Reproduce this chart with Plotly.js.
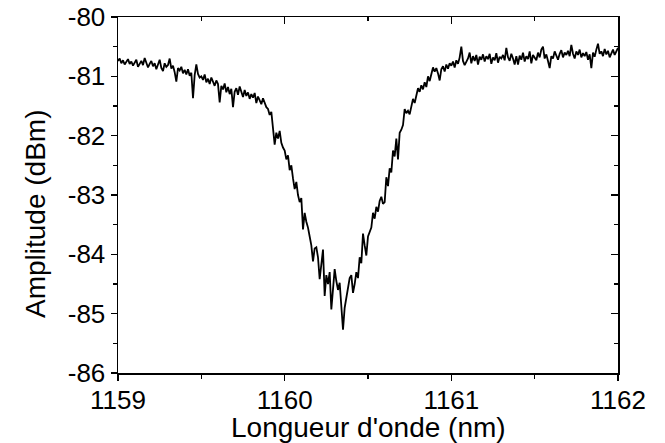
<!DOCTYPE html>
<html>
<head>
<meta charset="utf-8">
<script src="https://cdn.plot.ly/plotly-3.0.1.min.js"></script>
<style>html,body{margin:0;padding:0;background:#fff;}#chart{width:665px;height:443px;}</style>
</head>
<body>
<div id="chart"></div>
<script>
// Wavelength sampling (nm): first sample and step
const wavelengthStart = 1159.0;
const wavelengthStep = 0.01;

// Measured amplitude (dBm), one value per 0.01 nm from 1159.00 to 1162.00
const amplitude = [
  -80.74, -80.70, -80.78, -80.73, -80.80, -80.76, -80.71, -80.79, -80.75, -80.82,
  -80.77, -80.72, -80.84, -80.78, -80.74, -80.81, -80.69, -80.77, -80.85, -80.79,
  -80.74, -80.83, -80.78, -80.88, -80.80, -80.72, -80.86, -80.91, -80.78, -80.84,
  -80.81, -80.70, -80.87, -80.82, -80.93, -81.09, -80.86, -80.90, -80.84, -80.95,
  -80.89, -80.97, -80.88, -80.99, -80.94, -81.37, -80.98, -80.80, -80.96, -81.02,
  -81.00, -81.06, -80.97, -81.10, -81.04, -81.13, -81.02, -81.09, -81.16, -81.07,
  -81.13, -81.44, -81.16, -81.22, -81.12, -81.27, -81.18, -81.30, -81.21, -81.52,
  -81.26, -81.20, -81.31, -81.17, -81.28, -81.35, -81.23, -81.33, -81.27, -81.38,
  -81.30, -81.36, -81.28, -81.45, -81.34, -81.40, -81.47, -81.37, -81.44, -81.52,
  -81.55, -81.65, -81.60, -81.88, -82.15, -81.95, -82.05, -81.92, -82.12, -82.20,
  -82.25, -82.40, -82.33, -82.58, -82.50, -82.72, -82.90, -82.78, -83.00, -83.12,
  -83.05, -83.58, -83.30, -83.45, -83.55, -83.70, -83.85, -84.12, -83.90, -83.88,
  -84.05, -84.42, -84.10, -83.92, -84.70, -84.35, -84.50, -84.30, -84.93, -84.55,
  -84.25, -84.45, -84.60, -84.48, -84.85, -85.27, -84.90, -84.72, -84.55, -84.40,
  -84.35, -84.65, -84.50, -84.30, -84.40, -84.05, -84.15, -83.65, -83.85, -84.02,
  -83.70, -83.62, -83.55, -83.30, -83.40, -83.20, -83.28, -83.10, -83.03, -83.15,
  -83.12, -82.70, -82.85, -82.55, -82.62, -82.25, -82.35, -82.05, -82.40, -81.95,
  -81.90, -81.82, -81.55, -81.62, -81.58, -81.64, -81.48, -81.38, -81.45, -81.32,
  -81.20, -81.26, -81.15, -81.22, -81.10, -81.18, -81.00, -81.08, -80.95, -80.85,
  -80.92, -80.86, -80.95, -81.07, -80.88, -80.83, -80.92, -80.80, -80.87, -80.78,
  -80.82, -80.75, -80.85, -80.73, -80.79, -80.68, -80.50, -80.74, -80.81, -80.76,
  -80.70, -80.60, -80.78, -80.66, -80.74, -80.64, -80.80, -80.67, -80.72, -80.63,
  -80.75, -80.66, -80.71, -80.62, -80.79, -80.68, -80.73, -80.61, -80.77, -80.67,
  -80.70, -80.64, -80.73, -80.52, -80.68, -80.74, -80.62, -80.70, -80.80, -80.66,
  -80.80, -80.65, -80.72, -80.60, -80.75, -80.66, -80.71, -80.58, -80.78, -80.64,
  -80.69, -80.73, -80.60, -80.68, -80.55, -80.50, -80.70, -80.63, -80.74, -80.86,
  -80.66, -80.70, -80.58, -80.65, -80.72, -80.62, -80.56, -80.68, -80.60, -80.64,
  -80.57, -80.66, -80.47, -80.62, -80.70, -80.58, -80.64, -80.55, -80.68, -80.61,
  -80.66, -80.59, -80.72, -80.63, -80.86, -80.60, -80.67, -80.55, -80.45, -80.62,
  -80.58, -80.66, -80.54, -80.63, -80.57, -80.68, -80.60, -80.55, -80.64, -80.58,
  -80.52
];

// Tick values and labels
const xTickVals = [1159, 1160, 1161, 1162];
const xTickText = ['1159', '1160', '1161', '1162'];
const yTickVals = [-86, -85, -84, -83, -82, -81, -80];
const yTickText = ['-86', '-85', '-84', '-83', '-82', '-81', '-80'];

const xRange = [1159, 1162];
const yRange = [-86, -80];
const xTitle = "Longueur d'onde (nm)";
const yTitle = "Amplitude (dBm)";

const fam = 'Liberation Sans, Arial, sans-serif';
const tickFont = {family: fam, size: 26, color: '#000'};
const titleFont = {family: fam, size: 28, color: '#000'};

const trace = {
  type: 'scatter', mode: 'lines',
  y: amplitude, x0: wavelengthStart, dx: wavelengthStep,
  line: {color: '#000', width: 1.8},
  hoverinfo: 'skip', showlegend: false
};
// same data on the mirrored (top/right) axes, transparent, so those axes get drawn
const mirrorTrace = {
  type: 'scatter', mode: 'lines', xaxis: 'x2', yaxis: 'y2',
  y: amplitude, x0: wavelengthStart, dx: wavelengthStep,
  line: {color: 'rgba(0,0,0,0)', width: 0},
  hoverinfo: 'skip', showlegend: false
};

const axBase = {
  showgrid: false, zeroline: false, showline: true,
  linecolor: '#000', linewidth: 1.5,
  tickcolor: '#000', tickwidth: 1.5,
  tickfont: tickFont
};
const minorX = (dir) => ({dtick: 0.5, tick0: 1159, ticks: dir, ticklen: 4, tickwidth: 1.5, tickcolor: '#000'});
const minorY = (dir) => ({dtick: 0.5, tick0: -86, ticks: dir, ticklen: 4, tickwidth: 1.5, tickcolor: '#000'});

const layout = {
  width: 665, height: 443,
  margin: {l: 118, r: 47, t: 17, b: 70},
  paper_bgcolor: '#fff', plot_bgcolor: '#fff',
  font: tickFont,
  showlegend: false,
  xaxis: Object.assign({}, axBase, {
    range: xRange, tickmode: 'array', tickvals: xTickVals, ticktext: xTickText,
    ticks: 'outside', ticklen: 6, ticklabelstandoff: -3,
    minor: minorX('outside')
  }),
  yaxis: Object.assign({}, axBase, {
    range: yRange, tickmode: 'array', tickvals: yTickVals, ticktext: yTickText,
    ticks: 'outside', ticklen: 6,
    minor: minorY('outside')
  }),
  xaxis2: Object.assign({}, axBase, {
    range: xRange, overlaying: 'x', anchor: 'y2', side: 'top',
    tickmode: 'array', tickvals: xTickVals, ticks: 'inside', ticklen: 7, showticklabels: false,
    minor: minorX('inside')
  }),
  yaxis2: Object.assign({}, axBase, {
    range: yRange, overlaying: 'y', anchor: 'x2', side: 'right',
    tickmode: 'array', tickvals: yTickVals, ticks: 'inside', ticklen: 7, showticklabels: false,
    minor: minorY('inside')
  }),
  annotations: [
    {text: xTitle, xref: 'paper', yref: 'paper', x: 0.5, y: -0.105,
     xanchor: 'center', yanchor: 'top', showarrow: false, font: titleFont},
    {text: yTitle, xref: 'paper', yref: 'paper', x: -0.165, y: 0.448, textangle: -90,
     xanchor: 'center', yanchor: 'middle', showarrow: false, font: titleFont}
  ]
};

Plotly.newPlot('chart', [trace, mirrorTrace], layout, {displayModeBar: false, staticPlot: true});
</script>
</body>
</html>
